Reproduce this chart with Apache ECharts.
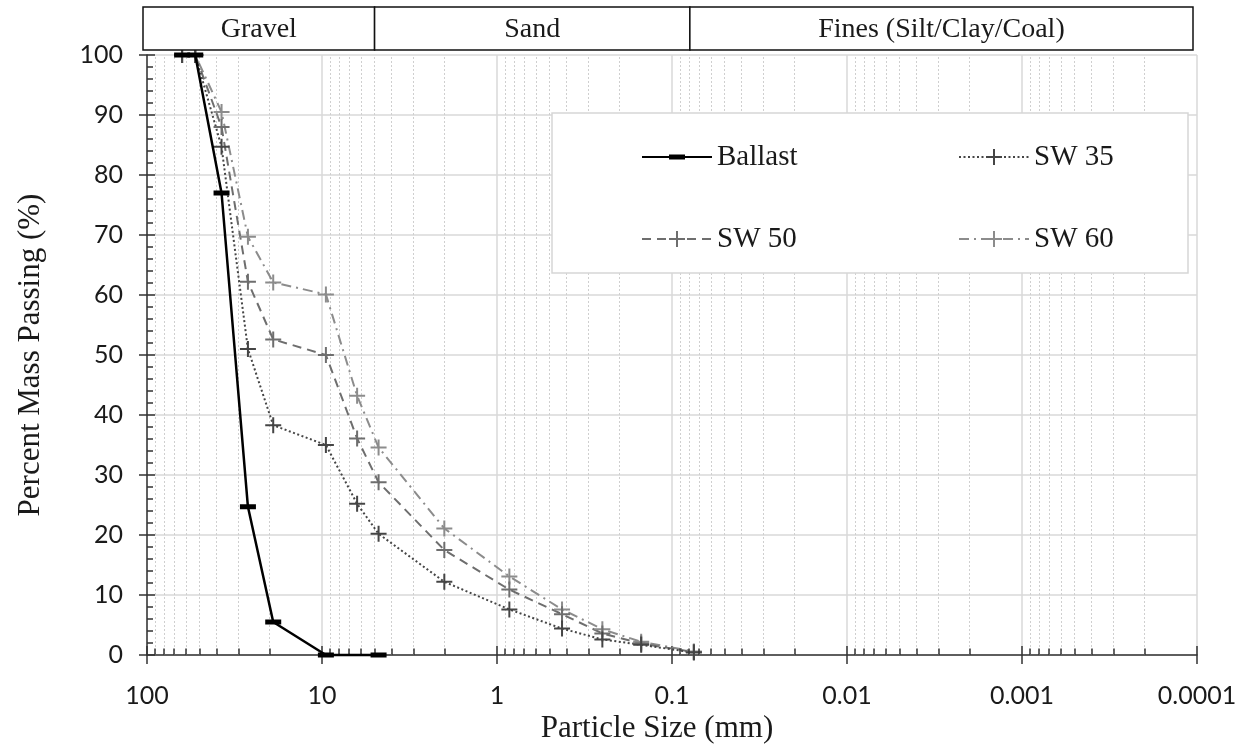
<!DOCTYPE html>
<html>
<head>
<meta charset="utf-8">
<script src="https://cdn.jsdelivr.net/npm/echarts@6/dist/echarts.min.js"></script>
<style>
  html, body { margin: 0; padding: 0; background: #fff; }
  #chart { width: 1250px; height: 749px; }
</style>
</head>
<body>
<div id="chart"></div>
<script>
// Sieve sizes (mm) and percent passing for each gradation
const sieveSizes   = [63, 53, 37.5, 26.5, 19, 9.5, 6.3, 4.75, 2.0, 0.85, 0.425, 0.25, 0.15, 0.075];
const ballastSizes = [63, 53, 37.5, 26.5, 19, 9.5, 4.75];
const ballast = [100, 100, 77, 24.7, 5.5, 0, 0];
const sw35 = [100, 100, 84.7, 51, 38.3, 35, 25.2, 20.2, 12.2, 7.6, 4.4, 2.6, 1.7, 0.4];
const sw50 = [100, 100, 88, 62.2, 52.6, 50, 36.1, 28.8, 17.5, 10.9, 6.8, 3.6, 1.9, 0.5];
const sw60 = [100, 100, 90.5, 69.7, 62.1, 60.1, 43.2, 34.6, 21.1, 13.1, 7.6, 4.3, 2.2, 0.6];

// Axis tick labels
const xTickValues = [100, 10, 1, 0.1, 0.01, 0.001, 0.0001];
const xTickLabels = ['100', '10', '1', '0.1', '0.01', '0.001', '0.0001'];
const yTickLabels = ['0', '10', '20', '30', '40', '50', '60', '70', '80', '90', '100'];

// Soil classification bands across the top (size boundaries in mm)
const bandNames = ['Gravel', 'Sand', 'Fines (Silt/Clay/Coal)'];
const bandEdges = [100, 4.75, 0.075, 0.0001];

// Minor log divisions
const decades = [10, 1, 0.1, 0.01, 0.001, 0.0001];
const minorSteps = [2, 3, 4, 5, 6, 7, 8, 9];

const serif = '"Liberation Serif", "DejaVu Serif", serif';
const sans = 'Lato, "Open Sans", sans-serif';
// Plus marker, and a flat bar padded to a square box so it keeps its shape in the legend too
const PLUS = 'path://M7,0H9V7H16V9H9V16H7V9H0V7H7Z';
const BAR = 'path://M0,5.5H16V10.5H0Z M8,0H8.01V0.01H8Z M8,15.99H8.01V16H8Z';

function pairs(xs, ys) { return xs.map((x, i) => [x, ys[i]]); }
function xLabel(v) {
  const i = xTickValues.findIndex(t => Math.abs(Math.log10(t) - Math.log10(v)) < 1e-6);
  return i >= 0 ? xTickLabels[i] : '';
}

const minorVals = [];
decades.forEach(d => minorSteps.forEach(m => minorVals.push(m * d)));
const minorGrid = minorVals.map(v => [{ coord: [v, 0] }, { coord: [v, 100] }]);
const minorTicks = minorVals.map(v => [{ coord: [v, 0] }, { coord: [v, 1.1] }]);

const chart = echarts.init(document.getElementById('chart'), null, { renderer: 'canvas' });

const plusSeries = (name, data, color, dash) => ({
  name, type: 'line', data: pairs(sieveSizes, data), z: 3,
  symbol: PLUS, symbolSize: 16, clip: false,
  lineStyle: { color, width: 2, type: dash },
  itemStyle: { color }
});

const legendText = { fontFamily: serif, fontSize: 29, color: '#1a1a1a', lineHeight: 30 };

chart.setOption({
  animation: false,
  grid: { left: 147, right: 53, top: 55, bottom: 94 },
  xAxis: [{
    type: 'log', logBase: 10, min: 0.0001, max: 100, inverse: true, splitNumber: 6,
    name: 'Particle Size (mm)', nameLocation: 'middle', nameGap: 50,
    nameTextStyle: { fontFamily: serif, fontSize: 31, color: '#1a1a1a', padding: [0, 30, 0, 0] },
    axisLine: { onZero: false, lineStyle: { color: '#333', width: 1.5 } },
    axisTick: { show: true, inside: false, length: 9, lineStyle: { color: '#333', width: 1.5 } },
    axisLabel: { formatter: xLabel, fontFamily: sans, fontSize: 25, color: '#1a1a1a', margin: 28 },
    splitLine: { show: true, lineStyle: { color: '#d9d9d9', width: 1.5 } }
  }, {
    type: 'log', logBase: 10, min: 0.0001, max: 100, inverse: true, splitNumber: 6,
    position: 'bottom', offset: 0,
    axisLine: { show: false, onZero: false },
    axisTick: { show: true, inside: true, length: 9, lineStyle: { color: '#333', width: 1.5 } },
    axisLabel: { show: false },
    splitLine: { show: false }
  }],
  yAxis: [{
    type: 'value', min: 0, max: 100, interval: 10,
    name: 'Percent Mass Passing (%)', nameLocation: 'middle', nameGap: 101,
    nameTextStyle: { fontFamily: serif, fontSize: 31, color: '#1a1a1a' },
    axisLine: { show: true, onZero: false, lineStyle: { color: '#333', width: 1.5 } },
    axisTick: { show: true, inside: false, length: 8, lineStyle: { color: '#333', width: 1.5 } },
    axisLabel: { formatter: v => yTickLabels[Math.round(v / 10)], fontFamily: sans, fontSize: 25, color: '#1a1a1a', margin: 24 },
    splitLine: { show: true, lineStyle: { color: '#d9d9d9', width: 1.5 } }
  }, {
    type: 'value', min: 0, max: 100, interval: 10, position: 'left', offset: 0,
    axisLine: { show: false, onZero: false },
    axisTick: { show: true, inside: true, length: 8, lineStyle: { color: '#333', width: 1.5 } },
    minorTick: { show: true, splitNumber: 5, length: 6, lineStyle: { color: '#333', width: 1.5 } },
    axisLabel: { show: false },
    splitLine: { show: false }
  }],
  legend: [{
    data: ['Ballast', 'SW 50'], orient: 'vertical', left: 636, top: 137, z: 8,
    itemWidth: 70, itemHeight: 20, itemGap: 52, textStyle: legendText
  }, {
    data: ['SW 35', 'SW 60'], orient: 'vertical', left: 953, top: 137, z: 8,
    itemWidth: 70, itemHeight: 20, itemGap: 52, textStyle: legendText
  }],
  series: [
    {
      name: 'grid-minor', type: 'line', data: [], z: 1, silent: true,
      markLine: {
        silent: true, symbol: 'none', label: { show: false }, z: 1, animation: false,
        lineStyle: { color: '#cfcfcf', width: 1, type: [2, 2] },
        data: minorGrid
      }
    },
    {
      name: 'tick-minor', type: 'line', data: [], z: 4, silent: true,
      markLine: {
        silent: true, symbol: 'none', label: { show: false }, animation: false,
        lineStyle: { color: '#333', width: 1.5, type: 'solid' },
        data: minorTicks
      }
    },
    plusSeries('SW 60', sw60, '#8c8c8c', [10, 5, 2, 5]),
    plusSeries('SW 50', sw50, '#6e6e6e', [9, 6]),
    plusSeries('SW 35', sw35, '#454545', [2, 2.5]),
    {
      name: 'Ballast', type: 'line', data: pairs(ballastSizes, ballast), z: 5,
      symbol: BAR, symbolSize: 16, clip: false,
      lineStyle: { color: '#000', width: 2.5, type: 'solid' },
      itemStyle: { color: '#000' }
    }
  ]
});

// Classification bands above the plot and the legend frame
const px = v => chart.convertToPixel({ xAxisIndex: 0 }, v);
const bandTop = 7, bandBottom = 50, shift = -4;
const graphics = [];
for (let i = 0; i < bandNames.length; i++) {
  const x0 = px(bandEdges[i]) + shift;
  const x1 = px(bandEdges[i + 1]) + shift;
  graphics.push({
    type: 'rect', z: 10,
    shape: { x: x0, y: bandTop, width: x1 - x0, height: bandBottom - bandTop },
    style: { fill: '#fff', stroke: '#111', lineWidth: 1.5 }
  });
  graphics.push({
    type: 'text', z: 11,
    x: (x0 + x1) / 2, y: (bandTop + bandBottom) / 2 + 1,
    style: { text: bandNames[i], font: '28px ' + serif, fill: '#1a1a1a', textAlign: 'center', textVerticalAlign: 'middle' }
  });
}
graphics.push({
  type: 'rect', z: 6,
  shape: { x: 552, y: 113, width: 636, height: 160 },
  style: { fill: '#fff', stroke: '#d6d6d6', lineWidth: 1.5 }
});
chart.setOption({ graphic: graphics });
</script>
</body>
</html>
